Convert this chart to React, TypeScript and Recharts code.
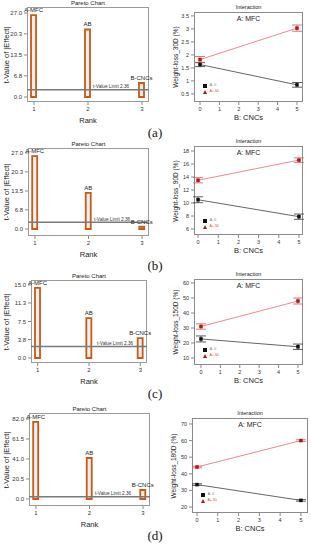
import React from "react";
import { ComposedChart, Bar, Line, XAxis, YAxis, ReferenceLine, LabelList, ErrorBar } from "recharts";

// Pareto charts: t-value of |effect| per ranked term
const ranks = [1, 2, 3];
const terms = ["A-MFC", "AB", "B-CNCs"];
const tLimit = 2.36;

const tValues30 = [26.3, 21.7, 4.5];
const tValues90 = [25.9, 12.8, 0.8];
const tValues150 = [14.4, 8.2, 4.1];
const tValues180 = [79.0, 42.0, 9.2];

const paretoTicks30 = [0, 6.8, 13.5, 20.3, 27.0];
const paretoTicks90 = [0, 6.8, 13.5, 20.3, 27.0];
const paretoTicks150 = [0, 3.8, 7.5, 11.3, 15.0];
const paretoTicks180 = [0, 20.5, 41.0, 61.5, 82.0];

// Interaction plots: weight loss vs CNCs at low / high MFC
const cncLevels = [0, 5];
const cncTicks = [0, 1, 2, 3, 4, 5];
const legendLow = "A- 0";
const legendHigh = "A+ 30";

const lossLow30 = [1.63, 0.85];
const errLow30 = [0.08, 0.09];
const lossHigh30 = [1.82, 3.03];
const errHigh30 = [0.12, 0.12];

const lossLow90 = [10.5, 7.9];
const errLow90 = [0.45, 0.4];
const lossHigh90 = [13.5, 16.6];
const errHigh90 = [0.4, 0.35];

const lossLow150 = [22.7, 17.5];
const errLow150 = [2.0, 1.8];
const lossHigh150 = [31.0, 48.0];
const errHigh150 = [1.8, 2.0];

const lossLow180 = [33.5, 24.0];
const errLow180 = [0.5, 0.5];
const lossHigh180 = [44.1, 60.0];
const errHigh180 = [0.5, 0.5];

const ticks30 = [0.5, 1, 1.5, 2, 2.5, 3, 3.5];
const ticks90 = [6, 8, 10, 12, 14, 16, 18];
const ticks150 = [10, 20, 30, 40, 50, 60];
const ticks180 = [20, 30, 40, 50, 60, 70];

type Frame = { l: number; t: number; r: number; b: number };

const FONT = "'Liberation Sans', Arial, sans-serif";

const Txt = ({ x, y, size, children, color = "#222", rotate = false, family = FONT }: any) => (
  <div
    style={{
      position: "absolute",
      left: x,
      top: y,
      fontSize: size,
      color,
      fontFamily: family,
      whiteSpace: "nowrap",
      lineHeight: 1,
      transform: `translate(-50%, -50%)${rotate ? " rotate(-90deg)" : ""}`,
    }}
  >
    {children}
  </div>
);

const Box = ({ f, color }: { f: Frame; color: string }) => (
  <div
    style={{
      position: "absolute",
      left: f.l,
      top: f.t,
      width: f.r - f.l,
      height: f.b - f.t,
      border: `1px solid ${color}`,
      boxSizing: "border-box",
      pointerEvents: "none",
    }}
  />
);

const LimitLabel = ({ viewBox }: any) => (
  <text x={viewBox.x + 66} y={viewBox.y - 1.5} fontSize={4.7} fill="#333">
    t-Value Limit {tLimit}
  </text>
);

const Pareto = ({ f, values, ticks, domain }: { f: Frame; values: number[]; ticks: number[]; domain: number[] }) => {
  const YW = 26, XH = 16, MT = 12, MR = 8;
  const w = f.r - f.l, h = f.b - f.t;
  const data = ranks.map((r, i) => ({ rank: r, term: terms[i], t: values[i] }));
  return (
    <>
      <Box f={f} color="#9a9a9a" />
      <div style={{ position: "absolute", left: f.l - YW, top: f.t - MT }}>
        <ComposedChart width={YW + w + MR} height={MT + h + XH} data={data} margin={{ top: MT, right: MR, bottom: 0, left: 0 }}>
          <XAxis
            dataKey="rank"
            type="number"
            domain={[0.87, 3.13]}
            ticks={ranks}
            interval={0}
            allowDataOverflow
            axisLine={false}
            tickLine={{ stroke: "#888" }}
            tickSize={3}
            height={XH}
            tick={{ fontSize: 6, fill: "#333" }}
          />
          <YAxis
            type="number"
            domain={domain}
            ticks={ticks}
            interval={0}
            allowDataOverflow
            axisLine={false}
            tickLine={{ stroke: "#888" }}
            tickSize={3}
            width={YW}
            tick={{ fontSize: 6, fill: "#333" }}
            tickFormatter={(v: number) => v.toFixed(1)}
          />
          <ReferenceLine y={tLimit} stroke="#7a7a7a" strokeWidth={1.5} label={<LimitLabel />} />
          <Bar dataKey="t" barSize={5} fill="#efefef" stroke="#c85a17" strokeWidth={1.8} isAnimationActive={false}>
            <LabelList dataKey="term" position="top" offset={3} fontSize={6} fill="#222" />
          </Bar>
        </ComposedChart>
      </div>
      <Txt x={(f.l + f.r) / 2} y={f.t - 4} size={6}>Pareto Chart</Txt>
      <Txt x={(f.l + f.r) / 2} y={f.b + 19} size={7.5}>Rank</Txt>
      <Txt x={7} y={(f.t + f.b) / 2} size={7.5} rotate>t-Value of |Effect|</Txt>
    </>
  );
};

const square = (color: string) => (p: any) => (
  <rect key={`${p.cx}-${p.cy}`} x={p.cx - 1.75} y={p.cy - 1.75} width={3.5} height={3.5} fill={color} />
);

const Interaction = ({
  f, low, errLow, high, errHigh, ticks, yDomain, xDomain, yLabel, legendY,
}: {
  f: Frame; low: number[]; errLow: number[]; high: number[]; errHigh: number[];
  ticks: number[]; yDomain: number[]; xDomain: number[]; yLabel: string; legendY: number;
}) => {
  const YW = 24, XH = 16, MT = 4, MR = 4;
  const w = f.r - f.l, h = f.b - f.t;
  const lowData = cncLevels.map((x, i) => ({ x, y: low[i], e: errLow[i] }));
  const highData = cncLevels.map((x, i) => ({ x, y: high[i], e: errHigh[i] }));
  return (
    <>
      <Box f={f} color="#8a8a8a" />
      <div style={{ position: "absolute", left: f.l - YW, top: f.t - MT }}>
        <ComposedChart width={YW + w + MR} height={MT + h + XH} margin={{ top: MT, right: MR, bottom: 0, left: 0 }}>
          <XAxis
            dataKey="x"
            type="number"
            domain={xDomain}
            ticks={cncTicks}
            interval={0}
            allowDataOverflow
            axisLine={false}
            tickLine={{ stroke: "#888" }}
            tickSize={3}
            height={XH}
            tick={{ fontSize: 5.5, fill: "#333" }}
          />
          <YAxis
            type="number"
            domain={yDomain}
            ticks={ticks}
            interval={0}
            allowDataOverflow
            axisLine={false}
            tickLine={{ stroke: "#888" }}
            tickSize={3}
            width={YW}
            tick={{ fontSize: 5.5, fill: "#333" }}
          />
          <Line data={lowData} dataKey="y" stroke="#666" strokeWidth={1} dot={square("#111")} isAnimationActive={false}>
            <ErrorBar dataKey="e" width={5} stroke="#333" strokeWidth={0.8} />
          </Line>
          <Line data={highData} dataKey="y" stroke="#f08a8a" strokeWidth={1} dot={square("#b01818")} isAnimationActive={false}>
            <ErrorBar dataKey="e" width={5} stroke="#e05050" strokeWidth={0.8} />
          </Line>
        </ComposedChart>
      </div>
      <Txt x={(f.l + f.r) / 2} y={f.t - 4} size={5.5}>Interaction</Txt>
      <Txt x={(f.l + f.r) / 2} y={f.t + 6} size={7}>A: MFC</Txt>
      <Txt x={(f.l + f.r) / 2} y={f.b + 16} size={7.5}>B: CNCs</Txt>
      <Txt x={f.l - 18} y={(f.t + f.b) / 2} size={6.5} rotate>{yLabel}</Txt>
      <div style={{ position: "absolute", left: f.l + 9, top: legendY - 2, width: 4, height: 4, background: "#111" }} />
      <Txt x={f.l + 19} y={legendY} size={3.5} color="#777">{legendLow}</Txt>
      <div
        style={{
          position: "absolute", left: f.l + 9, top: legendY + 4, width: 0, height: 0,
          borderLeft: "2px solid transparent", borderRight: "2px solid transparent", borderBottom: "4px solid #b01818",
        }}
      />
      <Txt x={f.l + 20} y={legendY + 6} size={3.5} color="#e04040">{legendHigh}</Txt>
    </>
  );
};

const PanelTag = ({ y, children }: any) => (
  <Txt x={155} y={y} size={13} color="#111" family="'Liberation Serif', 'Times New Roman', serif">{children}</Txt>
);

export default function App() {
  return (
    <div style={{ position: "absolute", left: 0, top: 0, width: 311, height: 550, background: "#fff", overflow: "hidden", fontFamily: FONT }}>
      <Pareto f={{ l: 27, t: 7, r: 149, b: 102 }} values={tValues30} ticks={paretoTicks30} domain={[-1.61, 28.93]} />
      <Pareto f={{ l: 28, t: 148, r: 149, b: 236 }} values={tValues90} ticks={paretoTicks90} domain={[-2.49, 28.78]} />
      <Pareto f={{ l: 31, t: 280, r: 147, b: 363 }} values={tValues150} ticks={paretoTicks150} domain={[-1.03, 16.03]} />
      <Pareto f={{ l: 29, t: 413, r: 150, b: 506 }} values={tValues180} ticks={paretoTicks180} domain={[-7.2, 88.15]} />

      <Interaction
        f={{ l: 194, t: 12, r: 303, b: 102 }} low={lossLow30} errLow={errLow30} high={lossHigh30} errHigh={errHigh30}
        ticks={ticks30} yDomain={[0.19, 3.65]} xDomain={[-0.31, 5.31]} yLabel="Weight-loss_30D (%)" legendY={86}
      />
      <Interaction
        f={{ l: 194, t: 146, r: 303, b: 235 }} low={lossLow90} errLow={errLow90} high={lossHigh90} errHigh={errHigh90}
        ticks={ticks90} yDomain={[5.08, 18.77]} xDomain={[-0.2, 5.2]} yLabel="Weight-loss_90D (%)" legendY={221}
      />
      <Interaction
        f={{ l: 194, t: 279, r: 303, b: 365 }} low={lossLow150} errLow={errLow150} high={lossHigh150} errHigh={errHigh150}
        ticks={ticks150} yDomain={[5.33, 62.67]} xDomain={[-0.36, 5.26]} yLabel="Weight-loss_150D (%)" legendY={350}
      />
      <Interaction
        f={{ l: 192, t: 418, r: 308, b: 513 }} low={lossLow180} errLow={errLow180} high={lossHigh180} errHigh={errHigh180}
        ticks={ticks180} yDomain={[16.4, 73.6]} xDomain={[-0.24, 5.34]} yLabel="Weight-loss_180D (%)" legendY={495}
      />

      <PanelTag y={132}>(a)</PanelTag>
      <PanelTag y={265}>(b)</PanelTag>
      <PanelTag y={393}>(c)</PanelTag>
      <PanelTag y={535}>(d)</PanelTag>
    </div>
  );
}
